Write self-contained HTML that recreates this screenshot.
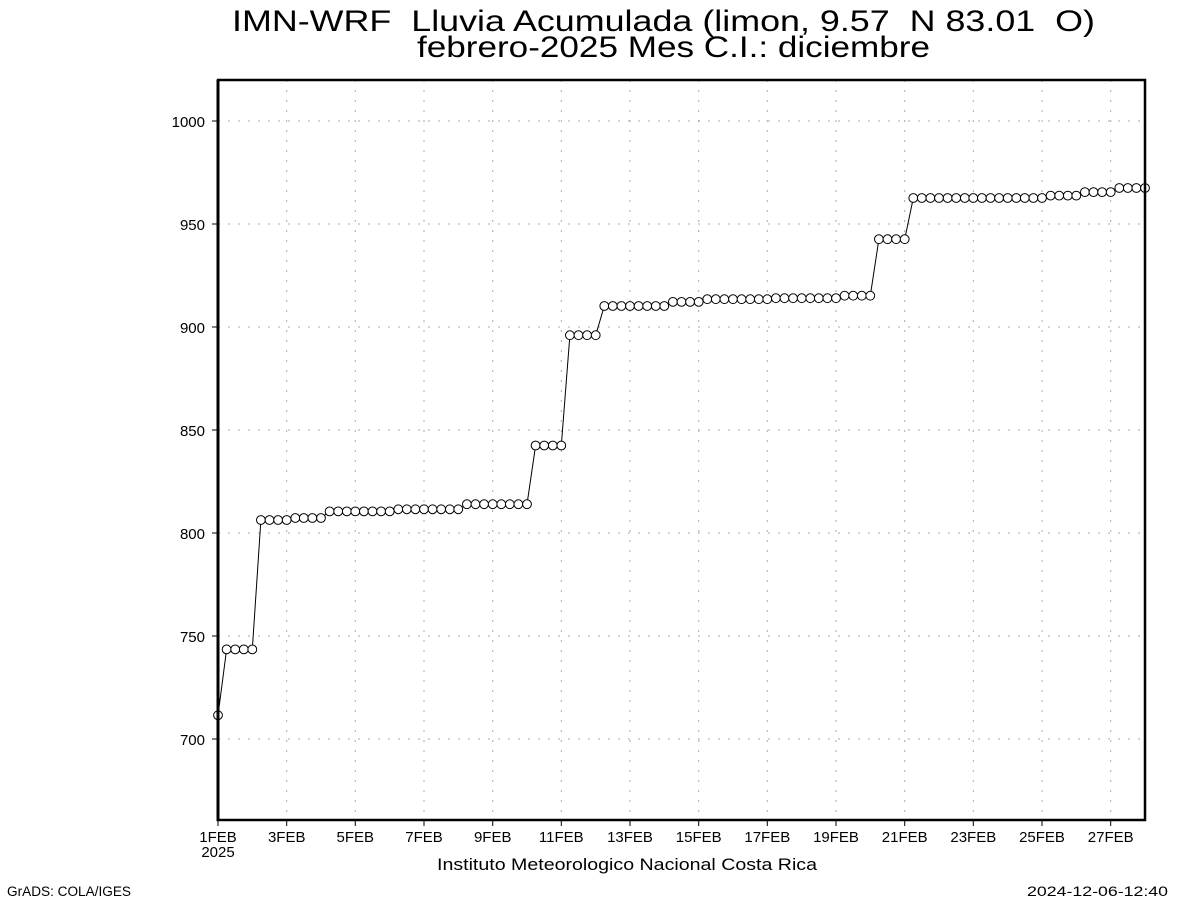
<!DOCTYPE html>
<html>
<head>
<meta charset="utf-8">
<style>
  html, body { margin: 0; padding: 0; background: #ffffff; }
  svg { display: block; }
  text { font-family: "Liberation Sans", "DejaVu Sans", sans-serif; fill: #000; white-space: pre; }
</style>
</head>
<body>
<svg width="1200" height="900" viewBox="0 0 1200 900" xmlns="http://www.w3.org/2000/svg" xml:space="preserve">
  <defs>
    <marker id="dot" markerUnits="userSpaceOnUse" markerWidth="12" markerHeight="12" refX="6" refY="6" viewBox="0 0 12 12" overflow="visible">
      <circle cx="6" cy="6" r="4.4" fill="#fff" stroke="#000" stroke-width="1"/>
    </marker>
  </defs>
  <rect x="0" y="0" width="1200" height="900" fill="#fff"/>

  <!-- Title -->
  <text x="232" y="31" font-size="30" textLength="863" lengthAdjust="spacingAndGlyphs">IMN-WRF  Lluvia Acumulada (limon, 9.57  N 83.01  O)</text>
  <text x="417" y="57" font-size="30" textLength="513" lengthAdjust="spacingAndGlyphs">febrero-2025 Mes C.I.: diciembre</text>

  <!-- Grid -->
  <g stroke="#a8a8a8" stroke-width="1" stroke-dasharray="2 8" fill="none">
    <line x1="218" y1="121" x2="1145" y2="121"/>
    <line x1="218" y1="224" x2="1145" y2="224"/>
    <line x1="218" y1="327" x2="1145" y2="327"/>
    <line x1="218" y1="430" x2="1145" y2="430"/>
    <line x1="218" y1="533" x2="1145" y2="533"/>
    <line x1="218" y1="636" x2="1145" y2="636"/>
    <line x1="218" y1="739" x2="1145" y2="739"/>
    <line x1="286.7" y1="80" x2="286.7" y2="820"/>
    <line x1="355.3" y1="80" x2="355.3" y2="820"/>
    <line x1="424" y1="80" x2="424" y2="820"/>
    <line x1="492.7" y1="80" x2="492.7" y2="820"/>
    <line x1="561.3" y1="80" x2="561.3" y2="820"/>
    <line x1="630" y1="80" x2="630" y2="820"/>
    <line x1="698.7" y1="80" x2="698.7" y2="820"/>
    <line x1="767.3" y1="80" x2="767.3" y2="820"/>
    <line x1="836" y1="80" x2="836" y2="820"/>
    <line x1="904.7" y1="80" x2="904.7" y2="820"/>
    <line x1="973.3" y1="80" x2="973.3" y2="820"/>
    <line x1="1042" y1="80" x2="1042" y2="820"/>
    <line x1="1110.7" y1="80" x2="1110.7" y2="820"/>
  </g>

  <!-- Series -->
  <polyline fill="none" stroke="#000" stroke-width="1"
    marker-start="url(#dot)" marker-mid="url(#dot)" marker-end="url(#dot)"
    points="218,715.3 226.6,649.4 235.2,649.4 243.8,649.4 252.3,649.4
      260.9,520 269.5,520 278.1,520 286.7,520
      295.3,518 303.8,518 312.4,518 321,518
      329.6,511.4 338.2,511.4 346.8,511.4 355.3,511.4 363.9,511.4 372.5,511.4 381.1,511.4 389.7,511.4
      398.3,509.3 406.8,509.3 415.4,509.3 424,509.3 432.6,509.3 441.2,509.3 449.8,509.3 458.3,509.3
      466.9,504.2 475.5,504.2 484.1,504.2 492.7,504.2 501.3,504.2 509.8,504.2 518.4,504.2 527,504.2
      535.6,445.5 544.2,445.5 552.8,445.5 561.3,445.5
      569.9,335.2 578.5,335.2 587.1,335.2 595.7,335.2
      604.3,306 612.8,306 621.4,306 630,306 638.6,306 647.2,306 655.8,306 664.3,306
      672.9,301.9 681.5,301.9 690.1,301.9 698.7,301.9
      707.3,299.2 715.8,299.2 724.4,299.2 733,299.2 741.6,299.2 750.2,299.2 758.8,299.2 767.3,299.2
      775.9,298.2 784.5,298.2 793.1,298.2 801.7,298.2 810.3,298.2 818.8,298.2 827.4,298.2 836,298.2
      844.6,295.7 853.2,295.7 861.8,295.7 870.3,295.7
      878.9,239.2 887.5,239.2 896.1,239.2 904.7,239.2
      913.3,198 921.8,198 930.4,198 939,198 947.6,198 956.2,198 964.8,198 973.3,198
      981.9,198 990.5,198 999.1,198 1007.7,198 1016.3,198 1024.8,198 1033.4,198 1042,198
      1050.6,195.6 1059.2,195.6 1067.8,195.6 1076.3,195.6
      1084.9,192.1 1093.5,192.1 1102.1,192.1 1110.7,192.1
      1119.3,188 1127.8,188 1136.4,188 1145,188"/>

  <!-- Frame -->
  <rect x="218" y="80" width="927" height="740" fill="none" stroke="#000" stroke-width="2.5"/>
  <line x1="218" y1="80" x2="218" y2="821" stroke="#000" stroke-width="3"/>

  <!-- Ticks -->
  <g stroke="#000" stroke-width="1">
    <line x1="212" y1="121" x2="218" y2="121"/>
    <line x1="212" y1="224" x2="218" y2="224"/>
    <line x1="212" y1="327" x2="218" y2="327"/>
    <line x1="212" y1="430" x2="218" y2="430"/>
    <line x1="212" y1="533" x2="218" y2="533"/>
    <line x1="212" y1="636" x2="218" y2="636"/>
    <line x1="212" y1="739" x2="218" y2="739"/>
    <line x1="218" y1="820" x2="218" y2="826"/>
    <line x1="286.7" y1="820" x2="286.7" y2="826"/>
    <line x1="355.3" y1="820" x2="355.3" y2="826"/>
    <line x1="424" y1="820" x2="424" y2="826"/>
    <line x1="492.7" y1="820" x2="492.7" y2="826"/>
    <line x1="561.3" y1="820" x2="561.3" y2="826"/>
    <line x1="630" y1="820" x2="630" y2="826"/>
    <line x1="698.7" y1="820" x2="698.7" y2="826"/>
    <line x1="767.3" y1="820" x2="767.3" y2="826"/>
    <line x1="836" y1="820" x2="836" y2="826"/>
    <line x1="904.7" y1="820" x2="904.7" y2="826"/>
    <line x1="973.3" y1="820" x2="973.3" y2="826"/>
    <line x1="1042" y1="820" x2="1042" y2="826"/>
    <line x1="1110.7" y1="820" x2="1110.7" y2="826"/>
  </g>

  <!-- Y labels -->
  <g font-size="15" text-anchor="end">
    <text x="205" y="127">1000</text>
    <text x="205" y="230">950</text>
    <text x="205" y="333">900</text>
    <text x="205" y="436">850</text>
    <text x="205" y="539">800</text>
    <text x="205" y="642">750</text>
    <text x="205" y="745">700</text>
  </g>

  <!-- X labels -->
  <g font-size="15" text-anchor="middle">
    <text x="218" y="842">1FEB</text>
    <text x="218" y="857">2025</text>
    <text x="286.7" y="842">3FEB</text>
    <text x="355.3" y="842">5FEB</text>
    <text x="424" y="842">7FEB</text>
    <text x="492.7" y="842">9FEB</text>
    <text x="561.3" y="842">11FEB</text>
    <text x="630" y="842">13FEB</text>
    <text x="698.7" y="842">15FEB</text>
    <text x="767.3" y="842">17FEB</text>
    <text x="836" y="842">19FEB</text>
    <text x="904.7" y="842">21FEB</text>
    <text x="973.3" y="842">23FEB</text>
    <text x="1042" y="842">25FEB</text>
    <text x="1110.7" y="842">27FEB</text>
  </g>

  <text x="437" y="870" font-size="17" textLength="380" lengthAdjust="spacingAndGlyphs">Instituto Meteorologico Nacional Costa Rica</text>
  <text x="7" y="896" font-size="13.5" textLength="124" lengthAdjust="spacingAndGlyphs">GrADS: COLA/IGES</text>
  <text x="1027" y="896" font-size="13.5" textLength="141" lengthAdjust="spacingAndGlyphs">2024-12-06-12:40</text>
</svg>
</body>
</html>
